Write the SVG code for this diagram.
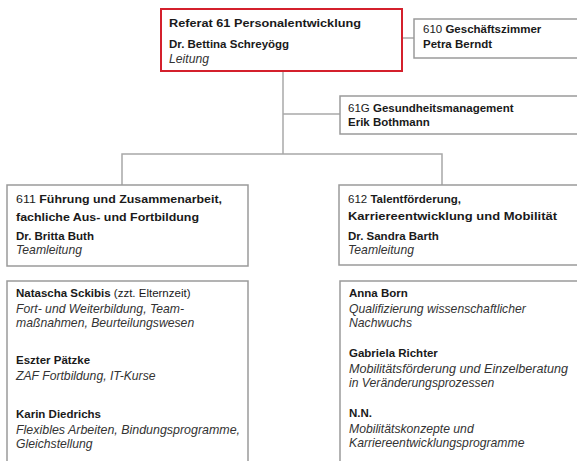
<svg xmlns="http://www.w3.org/2000/svg" width="577" height="461" viewBox="0 0 577 461">
<style>
text{font-family:"Liberation Sans","Noto Sans",sans-serif;font-size:11.5px;fill:#1a1a1a}
.b{font-weight:bold}
.i{font-style:italic;fill:#333;font-size:12.2px}
.r{font-weight:normal}
.box{fill:#fff;stroke:#9a9a9a;stroke-width:1.5}
.red{fill:#fff;stroke:#d4202c;stroke-width:2}
.ln{fill:none;stroke:#a8a8a8;stroke-width:1.5}
</style>
<rect width="577" height="461" fill="#fff"/>
<g id="connectors">
<path class="ln" d="M402 38H414"/>
<path class="ln" d="M283 71V154"/>
<path class="ln" d="M283 114H340"/>
<path class="ln" d="M122 185V154H442V185"/>
</g>
<g id="ref61">
<rect class="red" x="161" y="9" width="241" height="62"/>
<text class="b" x="169" y="27" textLength="192" lengthAdjust="spacingAndGlyphs">Referat 61 Personalentwicklung</text>
<text class="b" x="169" y="48">Dr. Bettina Schreyögg</text>
<text class="i" x="169" y="63">Leitung</text>
</g>
<g id="n610">
<rect class="box" x="414" y="19" width="180" height="39"/>
<text x="423" y="33"><tspan class="r">610 </tspan><tspan class="b">Geschäftszimmer</tspan></text>
<text class="b" x="423" y="48">Petra Berndt</text>
</g>
<g id="n61G">
<rect class="box" x="340" y="96" width="250" height="38"/>
<text x="348" y="112"><tspan class="r">61G </tspan><tspan class="b">Gesundheitsmanagement</tspan></text>
<text class="b" x="348" y="126">Erik Bothmann</text>
</g>
<g id="n611">
<rect class="box" x="7" y="185" width="241" height="81"/>
<text x="16" y="203" textLength="206" lengthAdjust="spacingAndGlyphs"><tspan class="r">611 </tspan><tspan class="b">Führung und Zusammenarbeit,</tspan></text>
<text class="b" x="16" y="221" textLength="183" lengthAdjust="spacingAndGlyphs">fachliche Aus- und Fortbildung</text>
<text class="b" x="16" y="240">Dr. Britta Buth</text>
<text class="i" x="16" y="254">Teamleitung</text>
</g>
<g id="n612">
<rect class="box" x="339" y="185" width="250" height="80"/>
<text x="348" y="203"><tspan class="r">612 </tspan><tspan class="b">Talentförderung,</tspan></text>
<text class="b" x="348" y="220" textLength="209" lengthAdjust="spacingAndGlyphs">Karriereentwicklung und Mobilität</text>
<text class="b" x="348" y="240">Dr. Sandra Barth</text>
<text class="i" x="348" y="254">Teamleitung</text>
</g>
<g id="team611">
<rect class="box" x="7" y="281" width="241" height="190"/>
<text x="16" y="297"><tspan class="b">Natascha Sckibis</tspan><tspan class="r"> (zzt. Elternzeit)</tspan></text>
<text class="i" x="16" y="313">Fort- und Weiterbildung, Team-</text>
<text class="i" x="16" y="327">maßnahmen, Beurteilungswesen</text>
<text class="b" x="16" y="364">Eszter Pätzke</text>
<text class="i" x="16" y="380">ZAF Fortbildung, IT-Kurse</text>
<text class="b" x="16" y="418">Karin Diedrichs</text>
<text class="i" x="16" y="434" textLength="224" lengthAdjust="spacingAndGlyphs">Flexibles Arbeiten, Bindungsprogramme,</text>
<text class="i" x="16" y="448">Gleichstellung</text>
</g>
<g id="team612">
<rect class="box" x="340" y="281" width="250" height="190"/>
<text class="b" x="349" y="297">Anna Born</text>
<text class="i" x="349" y="313">Qualifizierung wissenschaftlicher</text>
<text class="i" x="349" y="327">Nachwuchs</text>
<text class="b" x="349" y="357">Gabriela Richter</text>
<text class="i" x="349" y="373" textLength="219" lengthAdjust="spacingAndGlyphs">Mobilitätsförderung und Einzelberatung</text>
<text class="i" x="349" y="387">in Veränderungsprozessen</text>
<text class="b" x="349" y="417">N.N.</text>
<text class="i" x="349" y="433">Mobilitätskonzepte und</text>
<text class="i" x="349" y="447">Karriereentwicklungsprogramme</text>
</g>
</svg>
